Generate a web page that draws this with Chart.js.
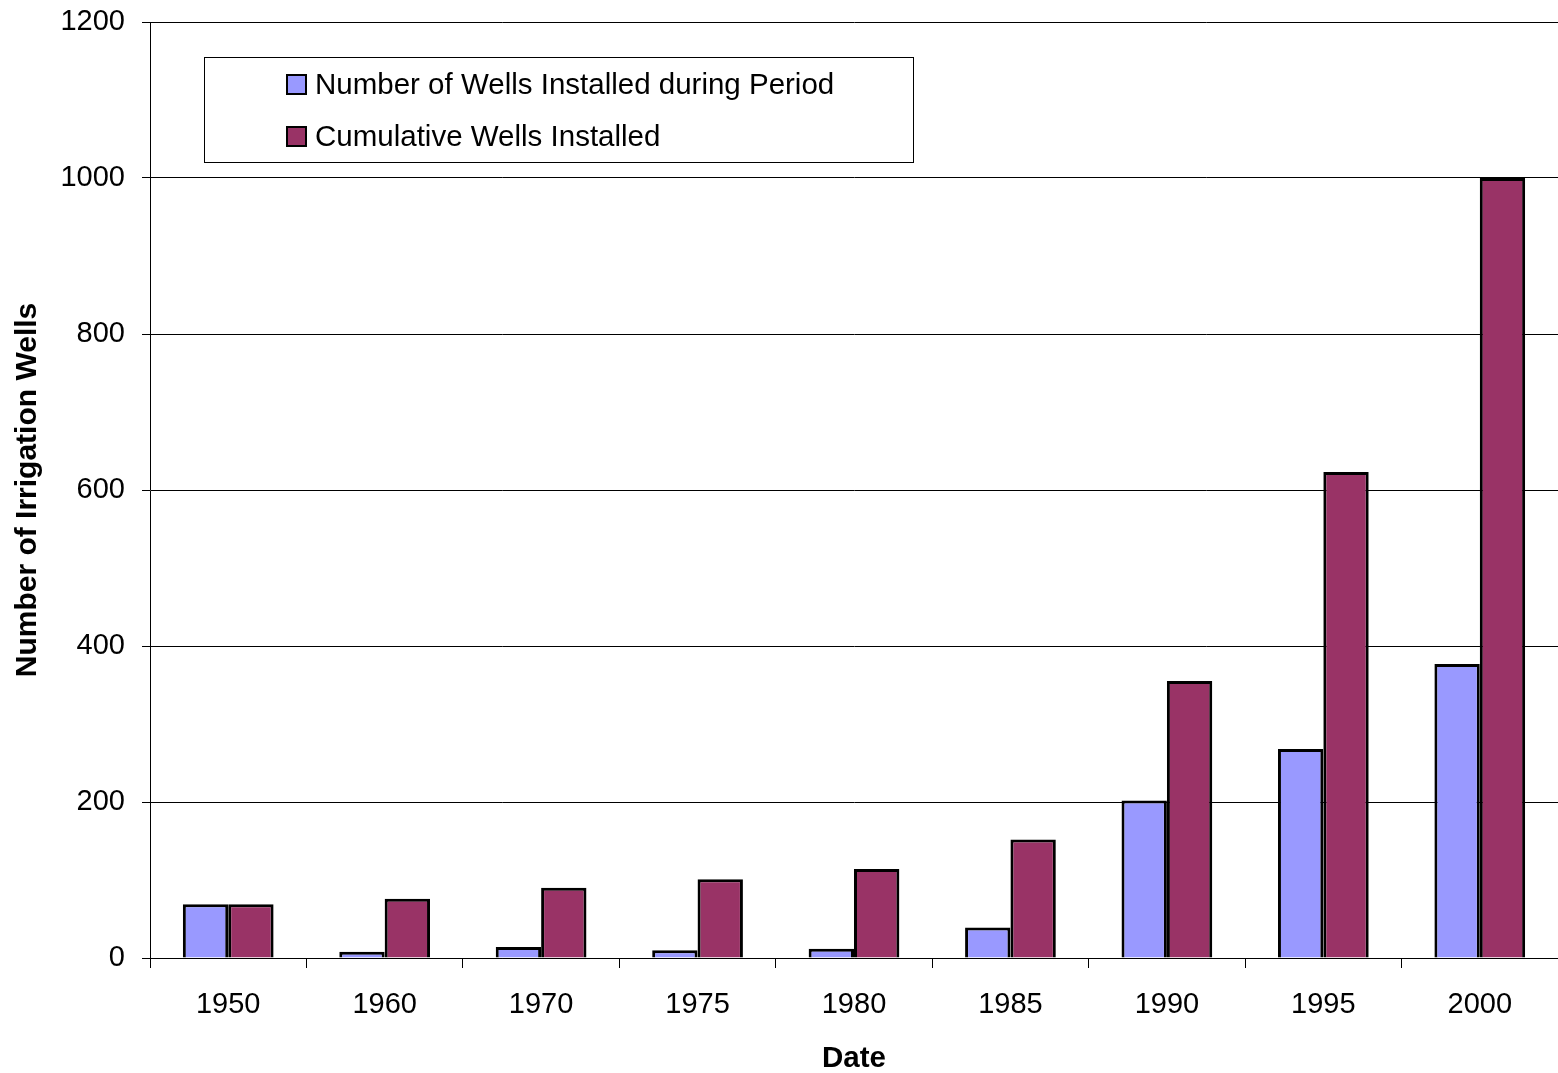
<!DOCTYPE html>
<html>
<head>
<meta charset="utf-8">
<script src="https://cdn.jsdelivr.net/npm/chart.js@4"></script>
<style>
  html, body { margin: 0; padding: 0; background: #fff; }
  #wrap { width: 1558px; height: 1073px; }
</style>
</head>
<body>
<div id="wrap"><canvas id="myChart"></canvas></div>
<script>
let years = ['1950', '1960', '1970', '1975', '1980', '1985', '1990', '1995', '2000'];
let periodWells = [69, 8, 14, 10, 12, 39, 202, 268, 377];
let cumulativeWells = [69, 76, 90, 101, 114, 152, 355, 623, 1000];
let yTicks = [0, 200, 400, 600, 800, 1000, 1200];

let FONT = "'Liberation Sans', Arial, sans-serif";

// legend box drawn inside the plot, like the original
let boxLegend = {
  id: 'boxLegend',
  afterDraw(chart) {
    let c = chart.ctx;
    c.save();
    c.fillStyle = '#fff';
    c.fillRect(204.5, 57.5, 709, 105);
    c.strokeStyle = '#000';
    c.lineWidth = 1;
    c.strokeRect(204.5, 57.5, 709, 105);
    c.font = '29.5px ' + FONT;
    c.textBaseline = 'middle';
    let rows = [85, 137];
    chart.data.datasets.forEach((ds, i) => {
      let y = rows[i];
      c.fillStyle = ds.backgroundColor;
      c.fillRect(287, y - 10, 19, 19);
      c.lineWidth = 2;
      c.strokeStyle = '#000';
      c.strokeRect(287, y - 10, 19, 19);
      c.fillStyle = '#000';
      c.fillText(ds.label, 315, y + 1);
    });
    c.restore();
  }
};

let ctx = document.getElementById('myChart').getContext('2d');
let myChart = new Chart(ctx, {
  type: 'bar',
  data: {
    labels: years,
    datasets: [{
      label: 'Number of Wells Installed during Period',
      data: periodWells,
      backgroundColor: '#9999FF',
      borderColor: '#000',
      borderWidth: 3
    }, {
      label: 'Cumulative Wells Installed',
      data: cumulativeWells,
      backgroundColor: '#993366',
      borderColor: '#000',
      borderWidth: 3
    }]
  },
  options: {
    responsive: true,
    maintainAspectRatio: false,
    animation: false,
    datasets: {
      bar: { categoryPercentage: 0.58, barPercentage: 1.0 }
    },
    layout: { padding: { top: 22, right: 0, left: 0, bottom: 0 } },
    plugins: {
      legend: { display: false },
      tooltip: { enabled: false }
    },
    scales: {
      x: {
        offset: true,
        grid: { offset: true, drawOnChartArea: false, drawTicks: true, tickLength: 10, color: '#000' },
        border: { color: '#000', width: 1 },
        ticks: { color: '#000', font: { family: FONT, size: 29 }, padding: 20, maxRotation: 0 },
        title: { display: true, text: 'Date', color: '#000', font: { family: FONT, size: 29.5, weight: 'bold' }, padding: { top: 0, bottom: -4 } },
        afterFit(scale) { scale.height = 115; }
      },
      y: {
        min: 0,
        max: 1200,
        afterBuildTicks(scale) { scale.ticks = yTicks.map(v => ({ value: v })); },
        grid: { color: '#000', lineWidth: 1, tickLength: 8 },
        border: { color: '#000', width: 1 },
        ticks: { color: '#000', font: { family: FONT, size: 29 }, padding: 17, callback: v => String(v) },
        title: { display: true, text: 'Number of Irrigation Wells', color: '#000', font: { family: FONT, size: 30, weight: 'bold' }, padding: { top: 10, bottom: 0 } },
        afterFit(scale) {
          scale.width = 150;
          scale.paddingTop = 0;
          scale.paddingBottom = 0;
        }
      }
    }
  },
  plugins: [boxLegend]
});
</script>
</body>
</html>
